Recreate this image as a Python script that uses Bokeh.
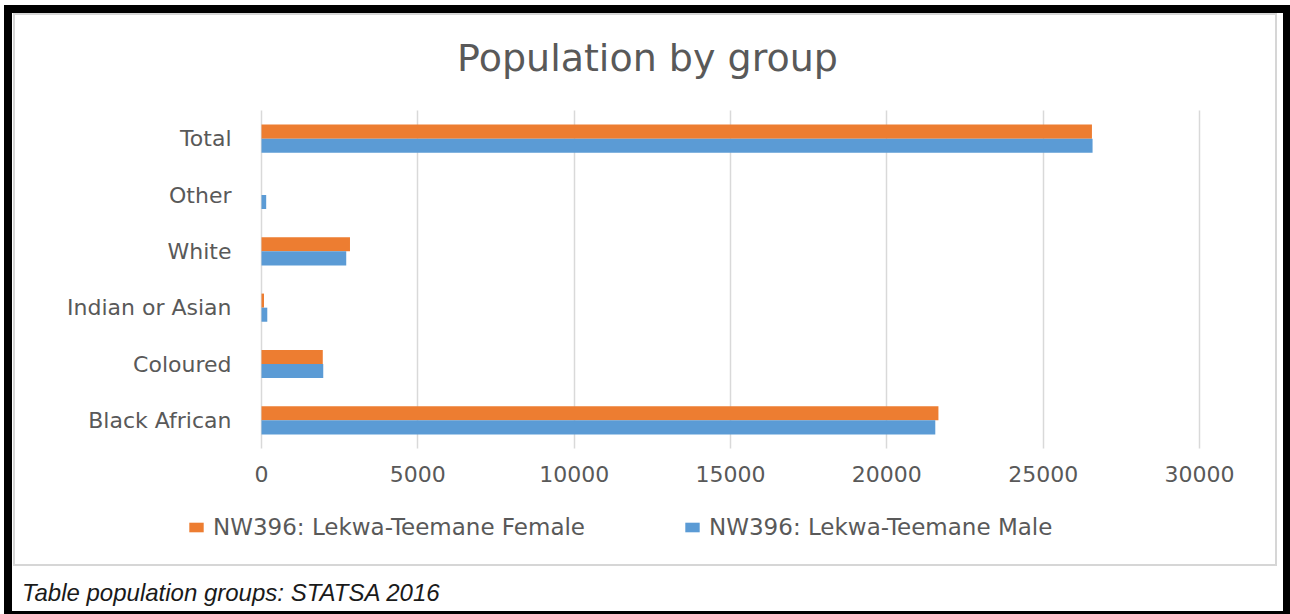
from bokeh.plotting import figure
from bokeh.layouts import column
from bokeh.models import (FactorRange, Range1d, FixedTicker, Legend, LegendItem,
                          ColumnDataSource, Label, Div)
from bokeh.transform import dodge
from bokeh.embed import file_html
from bokeh.resources import INLINE

# ---- data ----
categories = ["Black African", "Coloured", "Indian or Asian", "White", "Other", "Total"]
female = [21650, 1960, 80, 2830, 0, 26560]
male = [21550, 1975, 185, 2710, 150, 26580]
x_ticks = [0, 5000, 10000, 15000, 20000, 25000, 30000]
series_names = ["NW396: Lekwa-Teemane Female", "NW396: Lekwa-Teemane Male"]
title_text = "Population by group"
caption_text = "Table population groups: STATSA 2016"

ORANGE = "#ED7D31"
BLUE = "#5B9BD5"
GRAY_TXT = "#595959"
FONT = "DejaVu Sans"

# ---- layout geometry (pixels) ----
W, H = 1290, 558
FX0, FX1, FY0, FY1 = 261, 1199, 110, 448       # plotting area
XMAX = 30000
ppu_x = (FX1 - FX0) / XMAX
ppu_y = (FY1 - FY0) / len(categories)
pad_y = FY0 / ppu_y                             # symmetric padding (FY0 == H - FY1)


def xd(px):
    return (px - FX0) / ppu_x


def yd(py):
    return (FY1 - py) / ppu_y


src = ColumnDataSource(dict(cat=categories, female=female, male=male))

p = figure(width=W, height=H, output_backend="svg", toolbar_location=None,
           y_range=FactorRange(factors=categories, range_padding=pad_y,
                               range_padding_units="absolute"),
           x_range=Range1d(xd(0), xd(W)),
           min_border=0, min_border_left=0, min_border_right=0,
           min_border_top=0, min_border_bottom=0)
p.title.visible = False
p.outline_line_color = None
p.background_fill_color = None
p.border_fill_color = None

rf = p.hbar(y=dodge("cat", 0.125, range=p.y_range), right="female", left=0, height=0.25,
            source=src, fill_color=ORANGE, line_color=None)
rm = p.hbar(y=dodge("cat", -0.125, range=p.y_range), right="male", left=0, height=0.25,
            source=src, fill_color=BLUE, line_color=None)

# axes drawn at fixed positions inside the canvas
p.xaxis.fixed_location = 0
p.xaxis.ticker = FixedTicker(ticks=x_ticks)
p.xaxis.axis_line_color = None
p.xaxis.major_tick_line_color = None
p.xaxis.minor_tick_line_color = None
p.xaxis.major_tick_out = 0
p.xaxis.major_label_standoff = 17
p.xaxis.major_label_text_font = FONT
p.xaxis.major_label_text_font_size = "22px"
p.xaxis.major_label_text_color = GRAY_TXT

p.yaxis.fixed_location = 0
p.yaxis.axis_line_color = None
p.yaxis.major_tick_line_color = None
p.yaxis.minor_tick_line_color = None
p.yaxis.major_tick_out = 0
p.yaxis.major_label_standoff = 30
p.yaxis.major_label_text_font = FONT
p.yaxis.major_label_text_font_size = "22px"
p.yaxis.major_label_text_color = GRAY_TXT

p.xgrid.ticker = FixedTicker(ticks=x_ticks)
p.xgrid.grid_line_color = "#d9d9d9"
p.xgrid.grid_line_width = 1.5
p.xgrid.cross_bounds = (0, len(categories))
p.ygrid.grid_line_color = None

# title
p.add_layout(Label(x=xd(647), y=yd(57), text=title_text, text_align="center",
                   text_baseline="middle", text_font=FONT, text_font_size="38px",
                   text_color=GRAY_TXT))

# legend
legend = Legend(items=[LegendItem(label=series_names[0], renderers=[rf]),
                       LegendItem(label=series_names[1], renderers=[rm])],
                location=(187, 18), orientation="horizontal", padding=0, margin=0,
                border_line_color=None, background_fill_alpha=0, spacing=98,
                glyph_width=18, glyph_height=12, label_standoff=8,
                label_text_font=FONT, label_text_font_size="23px",
                label_text_color=GRAY_TXT)
p.add_layout(legend, "center")

caption = Div(text=caption_text, width=W, height=614 - H, margin=0,
              styles={"font-family": "Liberation Sans", "font-style": "italic",
                      "font-size": "24px", "color": "#1a1a1a", "line-height": "26px",
                      "padding-left": "22px", "padding-top": "22px",
                      "box-sizing": "border-box"})

# chart box (light gray) and outer black frame, painted as page background
g = "linear-gradient(#d6d6d6,#d6d6d6)"
k = "linear-gradient(#000,#000)"
bg = (f"{k} 4px 5px / 1286px 8px no-repeat, {k} 4px 5px / 8px 609px no-repeat, "
      f"{k} 1283px 5px / 7px 609px no-repeat, {k} 4px 611px / 1286px 3px no-repeat, "
      f"{g} 13px 13px / 1264px 2px no-repeat, {g} 13px 564px / 1264px 2px no-repeat, "
      f"{g} 13px 13px / 2px 553px no-repeat, {g} 1275px 13px / 2px 553px no-repeat, white")

layout = column(p, caption, width=W, height=614, spacing=0,
                styles={"background": bg})

open("out.html", "w").write(file_html(layout, INLINE))
